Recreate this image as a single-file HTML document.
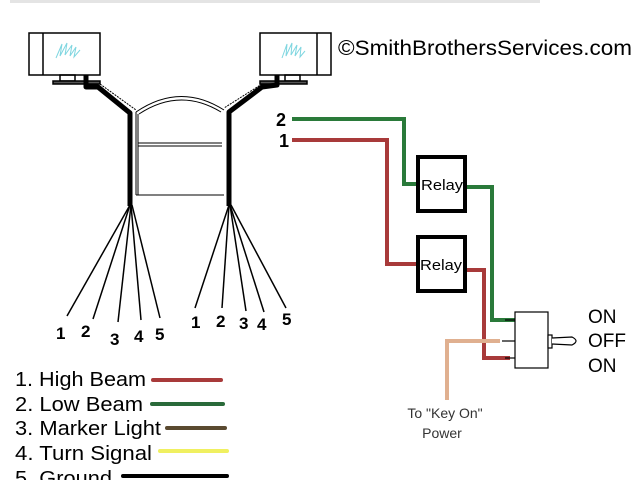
<!DOCTYPE html>
<html><head><meta charset="utf-8"><style>
html,body{margin:0;padding:0;background:#fff;width:640px;height:480px;overflow:hidden}
svg{display:block}
text{font-family:"Liberation Sans",Arial,sans-serif}
</style></head><body>
<svg width="640" height="480" viewBox="0 0 640 480">
<rect x="10" y="0" width="530" height="3" fill="#e4e4e4"/>
<g fill="none" stroke="#000" stroke-width="1.5">
<rect x="29" y="33" width="71" height="42" fill="#fff"/>
<line x1="43" y1="33" x2="43" y2="75"/>
<rect x="60" y="75" width="15" height="6"/>
<rect x="53" y="81" width="47" height="3" fill="#555"/>
<rect x="260" y="33" width="71" height="42" fill="#fff"/>
<line x1="317" y1="33" x2="317" y2="75"/>
<rect x="285" y="75" width="15" height="6"/>
<rect x="260" y="81" width="47" height="3" fill="#555"/>
</g>
<g stroke="#7fd6e0" stroke-width="1" fill="none">
<path d="M56 58 L62 44 L60 56 L67 43 L65 55 L72 45 L70 56 L76 47 L74 57 L80 50"/>
<path d="M282 58 L287 44 L286 56 L292 43 L291 55 L297 45 L295 56 L301 47 L300 57 L305 51"/>
</g>
<g fill="none" stroke="#000" stroke-width="1">
<path d="M136 112 Q180 82 224 110"/>
<path d="M139 114 Q180 87 221 112"/>
<line x1="136" y1="112" x2="136" y2="195"/>
<line x1="138" y1="114" x2="138" y2="195"/>
<line x1="136" y1="195" x2="224" y2="195"/>
<line x1="138" y1="143" x2="222" y2="143"/>
<line x1="138" y1="146" x2="222" y2="146"/>
</g>
<g fill="none" stroke="#000" stroke-linejoin="round">
<path d="M86 75 L86 87 L98 87 L130 113 L130 206" stroke-width="5"/>
<path d="M100 84 L136 110" stroke-width="1" stroke-dasharray="2 1"/>
<path d="M277 75 L277 85 L262 87 L229 112 L229 206" stroke-width="5"/>
<path d="M262 84 L224 108" stroke-width="1" stroke-dasharray="2 1"/>
</g>
<g stroke="#000" stroke-width="1.5">
<line x1="130" y1="205" x2="67" y2="316"/>
<line x1="130" y1="205" x2="93" y2="319"/>
<line x1="131" y1="205" x2="118" y2="322"/>
<line x1="131" y1="205" x2="141" y2="320"/>
<line x1="132" y1="205" x2="160" y2="318"/>
<line x1="229" y1="205" x2="195" y2="308"/>
<line x1="229" y1="205" x2="222" y2="308"/>
<line x1="230" y1="205" x2="246" y2="311"/>
<line x1="230" y1="205" x2="264" y2="312"/>
<line x1="231" y1="205" x2="286" y2="308"/>
</g>
<g font-size="17" font-weight="bold" fill="#000">
<text x="56" y="339">1</text><text x="81" y="337">2</text><text x="110" y="345">3</text><text x="134" y="342">4</text><text x="155" y="340">5</text>
<text x="191" y="328">1</text><text x="216" y="327">2</text><text x="239" y="329">3</text><text x="257" y="330">4</text><text x="282" y="325">5</text>
</g>
<text x="338" y="55" font-size="21" textLength="294" lengthAdjust="spacingAndGlyphs" fill="#000">©SmithBrothersServices.com</text>
<g fill="none" stroke-width="4" stroke-linejoin="miter">
<path d="M292 119 L404 119 L404 184 L417 184" stroke="#2a7a3a"/>
<path d="M466 187 L492 187 L492 320 L515 320" stroke="#2a7a3a"/>
<path d="M292 140 L387 140 L387 264 L417 264" stroke="#a83a3a"/>
<path d="M466 270 L484 270 L484 358 L510 358" stroke="#a83a3a"/>
<path d="M447 400 L447 341 L500 341" stroke="#e0b090"/>
</g>
<text x="276" y="126" font-size="18" font-weight="bold">2</text>
<text x="279" y="147" font-size="18" font-weight="bold">1</text>
<g fill="#fff" stroke="#000" stroke-width="4">
<rect x="418" y="157" width="47" height="54"/>
<rect x="418" y="237" width="47" height="54"/>
</g>
<text x="421" y="190" font-size="15" textLength="42" lengthAdjust="spacingAndGlyphs">Relay</text>
<text x="420" y="270" font-size="15" textLength="42" lengthAdjust="spacingAndGlyphs">Relay</text>
<g fill="#fff" stroke="#000" stroke-width="1.2">
<line x1="505" y1="320" x2="515" y2="320"/>
<line x1="502" y1="341" x2="515" y2="341"/>
<line x1="505" y1="358" x2="515" y2="358"/>
<rect x="515" y="312" width="33" height="56"/>
<rect x="548" y="335" width="4" height="13"/>
<path d="M552 338 L572 337 Q580 341 572 345 L552 344"/>
</g>
<g font-size="19" fill="#000">
<text x="588" y="323">ON</text><text x="588" y="347">OFF</text><text x="588" y="372">ON</text>
</g>
<g font-size="14" fill="#333" text-anchor="middle">
<text x="445" y="418">To "Key On"</text>
<text x="442" y="438">Power</text>
</g>
<g font-size="20" fill="#000">
<text x="15" y="386" textLength="131" lengthAdjust="spacingAndGlyphs">1. High Beam</text>
<text x="15" y="411" textLength="128" lengthAdjust="spacingAndGlyphs">2. Low Beam</text>
<text x="15" y="435" textLength="146" lengthAdjust="spacingAndGlyphs">3. Marker Light</text>
<text x="15" y="460" textLength="137" lengthAdjust="spacingAndGlyphs">4. Turn Signal</text>
<text x="15" y="485" textLength="97" lengthAdjust="spacingAndGlyphs">5. Ground</text>
</g>
<g stroke-width="4" stroke-linecap="round">
<line x1="153" y1="380" x2="221" y2="380" stroke="#a83a3a"/>
<line x1="152" y1="404" x2="223" y2="404" stroke="#2a6a3a"/>
<line x1="167" y1="428" x2="225" y2="428" stroke="#5a4a30"/>
<line x1="160" y1="451" x2="227" y2="451" stroke="#f0f060"/>
<line x1="123" y1="476" x2="227" y2="476" stroke="#000"/>
</g>
</svg>
</body></html>
